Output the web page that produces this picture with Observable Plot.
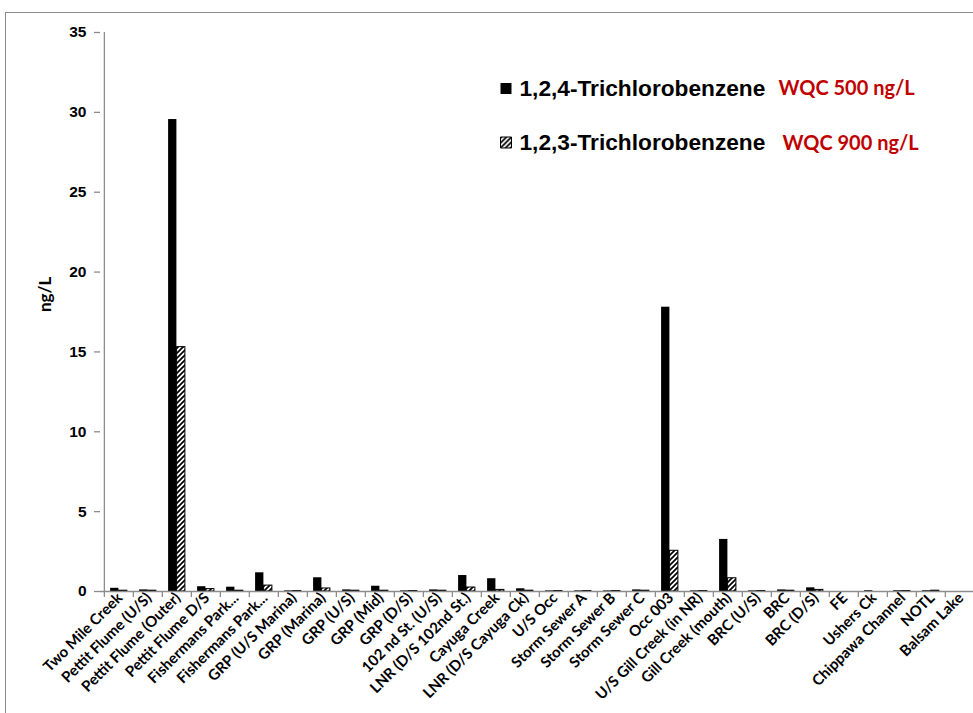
<!DOCTYPE html>
<html>
<head>
<meta charset="utf-8">
<script src="https://cdn.jsdelivr.net/npm/d3@7"></script>
<script src="https://cdn.jsdelivr.net/npm/@observablehq/plot@0.6"></script>
<style>
  html, body { margin: 0; padding: 0; background: #fff; }
  #wrap { position: relative; width: 973px; height: 713px; overflow: hidden; }
  #border { position: absolute; left: 5px; top: 12px; width: 1200px; height: 1200px; border-left: 1.5px solid #8c8c8c; border-top: 1.5px solid #8c8c8c; pointer-events: none; }
  svg { display: block; }
</style>
</head>
<body>
<div id="wrap"><div id="border"></div></div>
<script>
const sites = ["Two Mile Creek","Pettit Flume (U/S)","Pettit Flume (Outer)","Pettit Flume D/S","Fishermans Park...","Fishermans Park...","GRP (U/S Marina)","GRP (Marina)","GRP (U/S)","GRP (Mid)","GRP (D/S)","102 nd St. (U/S)","LNR (D/S 102nd St.)","Cayuga Creek","LNR (D/S Cayuga Ck)","U/S Occ","Storm Sewer A","Storm Sewer B","Storm Sewer C","Occ 003","U/S Gill Creek (in NR)","Gill Creek (mouth)","BRC (U/S)","BRC","BRC (D/S)","FE","Ushers Ck","Chippawa Channel","NOTL","Balsam Lake"];
const tcb124 = [0.2, 0.1, 29.55, 0.3, 0.27, 1.17, 0.04, 0.86, 0.1, 0.33, 0.04, 0.1, 1.0, 0.8, 0.17, 0.04, 0.04, 0.04, 0.1, 17.8, 0.04, 3.26, 0.04, 0.1, 0.23, 0, 0.05, 0.05, 0.05, 0];
const tcb123 = [0.05, 0.05, 15.3, 0.15, 0.05, 0.37, 0.03, 0.19, 0.05, 0.05, 0.03, 0.05, 0.25, 0.1, 0.05, 0.03, 0.03, 0.03, 0.05, 2.55, 0.03, 0.83, 0.03, 0.05, 0.1, 0, 0, 0.03, 0.05, 0];
const seriesNames = ["1,2,4-Trichlorobenzene", "1,2,3-Trichlorobenzene"];
const wqcLabels = ["WQC 500 ng/L", "WQC 900 ng/L"];
const yTicks = [0, 5, 10, 15, 20, 25, 30, 35];

const data = sites.map((s, i) => ({i, site: s, v124: tcb124[i], v123: tcb123[i]}));
const x0 = 100.7, bw = 29.25;
const gray = "#8c8c8c";

const chart = Plot.plot({
  width: 973,
  height: 713,
  marginLeft: 100,
  marginRight: 0,
  marginTop: 32,
  marginBottom: 122,
  style: {background: "transparent", overflow: "hidden"},
  x: {type: "band", domain: d3.range(sites.length), range: [x0, x0 + bw * sites.length], padding: 0, label: null},
  y: {domain: [0, 35], label: null},
  marks: [
    Plot.barY(data.filter(d => d.v124 > 0), {x: "i", y: "v124", fill: "black", insetLeft: 6.1, insetRight: 14.6}),
    Plot.barY(data.filter(d => d.v123 > 0), {x: "i", y: "v123", fill: "url(#hatch)", stroke: "black", strokeWidth: 1, insetLeft: 14.6, insetRight: 6.1}),
    Plot.ruleY([0], {stroke: gray, strokeWidth: 1.3}),
    Plot.ruleX([0], {x: d => d, dx: -bw / 2, y1: 0, y2: 35, stroke: gray, strokeWidth: 1.3}),
    Plot.axisX({tickSize: 6, tickFormat: () => "", dx: -bw / 2, stroke: gray, strokeWidth: 1.3}),
    Plot.axisX({tickSize: 0, tickPadding: 4, tickRotate: -45, tickFormat: i => sites[i], fontSize: 15, fontWeight: "bold", fontFamily: "Lato", fill: "black", dx: 1, dy: 0}),
    Plot.axisY({ticks: yTicks, tickSize: 6, tickPadding: 8, stroke: gray, strokeWidth: 1.3, fontSize: 15.5, fontWeight: "bold", fontFamily: "Liberation Sans", fill: "black"}),
    Plot.text(["ng/L"], {frameAnchor: "left", rotate: -90, dx: -55, fontSize: 17, fontWeight: "bold", fontFamily: "Lato", fill: "black"}),
    // legend swatches
    Plot.dot([seriesNames[0]], {frameAnchor: "top-left", dx: 405.5, dy: 56, symbol: "square", r: 6.2, fill: "black"}),
    Plot.dot([seriesNames[1]], {frameAnchor: "top-left", dx: 405.5, dy: 110, symbol: "square", r: 6.2, fill: "url(#hatchL)", stroke: "black", strokeWidth: 1}),
    Plot.text([seriesNames[0]], {frameAnchor: "top-left", dx: 419, dy: 56, textAnchor: "start", lineAnchor: "middle", fontSize: 22.7, fontWeight: "bold", fontFamily: "Liberation Sans", fill: "black"}),
    Plot.text([seriesNames[1]], {frameAnchor: "top-left", dx: 419, dy: 110, textAnchor: "start", lineAnchor: "middle", fontSize: 22.7, fontWeight: "bold", fontFamily: "Liberation Sans", fill: "black"}),
    Plot.text([wqcLabels[0]], {frameAnchor: "top-left", dx: 678, dy: 56, textAnchor: "start", lineAnchor: "middle", fontSize: 20, fontWeight: "bold", fontFamily: "Lato", fill: "#c00000"}),
    Plot.text([wqcLabels[1]], {frameAnchor: "top-left", dx: 682, dy: 111, textAnchor: "start", lineAnchor: "middle", fontSize: 20, fontWeight: "bold", fontFamily: "Lato", fill: "#c00000"})
  ]
});

const defs = d3.select(chart).insert("defs", ":first-child");
function addHatch(id, size, sw) {
  const p = defs.append("pattern").attr("id", id).attr("patternUnits", "userSpaceOnUse").attr("width", size).attr("height", size);
  p.append("rect").attr("width", size).attr("height", size).attr("fill", "white");
  p.append("path").attr("d", `M0,${size} L${size},0 M${-size/2},${size/2} L${size/2},${-size/2} M${size/2},${size*1.5} L${size*1.5},${size/2}`).attr("stroke", "black").attr("stroke-width", sw);
}
addHatch("hatch", 5, 1.7);
addHatch("hatchL", 5, 1.7);

document.getElementById("wrap").prepend(chart);
</script>
</body>
</html>
